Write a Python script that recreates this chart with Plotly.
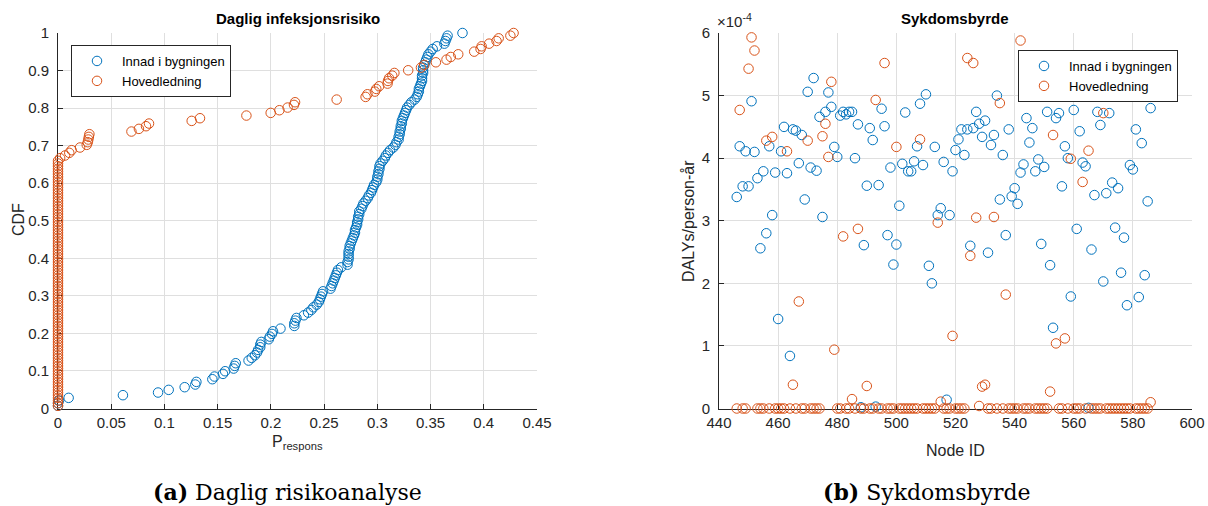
import plotly.graph_objects as go

# ---------------- Data ----------------
# (a) Daglig infeksjonsrisiko: daily infection-risk values per node (sorted, for the empirical CDF)
innad_p = [
    0.000, 0.000, 0.001, 0.010, 0.061, 0.094, 0.104, 0.119, 0.129, 0.130,
    0.145, 0.147, 0.155, 0.157, 0.165, 0.166, 0.167, 0.179, 0.182, 0.185,
    0.187, 0.188, 0.190, 0.190, 0.191, 0.198, 0.199, 0.201, 0.202, 0.209,
    0.222, 0.222, 0.223, 0.224, 0.231, 0.235, 0.238, 0.240, 0.243, 0.245,
    0.246, 0.247, 0.248, 0.249, 0.256, 0.257, 0.258, 0.259, 0.260, 0.261,
    0.262, 0.263, 0.266, 0.272, 0.272, 0.273, 0.273, 0.273, 0.273, 0.274,
    0.274, 0.275, 0.276, 0.277, 0.278, 0.279, 0.279, 0.280, 0.281, 0.281,
    0.282, 0.282, 0.283, 0.283, 0.285, 0.286, 0.287, 0.289, 0.291, 0.292,
    0.294, 0.295, 0.296, 0.297, 0.299, 0.300, 0.300, 0.301, 0.301, 0.302,
    0.302, 0.303, 0.305, 0.307, 0.308, 0.310, 0.312, 0.315, 0.317, 0.318,
    0.320, 0.320, 0.321, 0.321, 0.322, 0.322, 0.323, 0.323, 0.324, 0.325,
    0.326, 0.327, 0.328, 0.330, 0.332, 0.335, 0.337, 0.338, 0.339, 0.339,
    0.340, 0.341, 0.342, 0.342, 0.342, 0.343, 0.343, 0.343, 0.344, 0.345,
    0.346, 0.347, 0.348, 0.350, 0.352, 0.356, 0.363, 0.364, 0.365, 0.366,
    0.380,
]
hoved_p = [
    0, 0, 0, 0, 0, 0, 0, 0, 0, 0,
    0, 0, 0, 0, 0, 0, 0, 0, 0, 0,
    0, 0, 0, 0, 0, 0, 0, 0, 0, 0,
    0, 0, 0, 0, 0, 0, 0, 0, 0, 0,
    0, 0, 0, 0, 0, 0, 0, 0, 0, 0,
    0, 0, 0, 0, 0, 0, 0, 0, 0, 0,
    0, 0, 0, 0, 0, 0, 0, 0, 0, 0,
    0, 0, 0, 0, 0, 0, 0, 0, 0, 0,
    0, 0, 0, 0, 0, 0, 0, 0, 0, 0,
    0, 0, 0,
    0.002, 0.0066, 0.0106, 0.0128, 0.0207, 0.027, 0.028, 0.0285, 0.029, 0.0295,
    0.069, 0.076, 0.0827, 0.0855, 0.1256, 0.1334, 0.177, 0.1998, 0.208, 0.2157,
    0.2217, 0.2227, 0.2618, 0.289, 0.2907, 0.2977, 0.299, 0.3017, 0.3096, 0.310,
    0.311, 0.314, 0.316, 0.329, 0.341, 0.344, 0.355, 0.365, 0.369, 0.376,
    0.391, 0.397, 0.398, 0.405, 0.412, 0.414, 0.425, 0.428,
]

# (b) Sykdomsbyrde: DALYs per person-year per node, in units of 1e-4
node_id = [
    446, 447, 448, 449, 450, 451, 452, 453, 454, 455, 456, 457, 458, 459, 460,
    461, 462, 463, 464, 465, 466, 467, 468, 469, 470, 471, 472, 473, 474, 475,
    476, 477, 478, 479, 480, 481, 482, 483, 484, 485, 486, 487, 488, 489, 490,
    491, 492, 493, 494, 495, 496, 497, 498, 499, 500, 501, 502, 503, 504, 505,
    506, 507, 508, 509, 510, 511, 512, 513, 514, 515, 516, 517, 518, 519, 520,
    521, 522, 523, 524, 525, 526, 527, 528, 529, 530, 531, 532, 533, 534, 535,
    536, 537, 538, 539, 540, 541, 542, 543, 544, 545, 546, 547, 548, 549, 550,
    551, 552, 553, 554, 555, 556, 557, 558, 559, 560, 561, 562, 563, 564, 565,
    566, 567, 568, 569, 570, 571, 572, 573, 574, 575, 576, 577, 578, 579, 580,
    581, 582, 583, 584, 585, 586,
]
innad_daly_e4 = [
    3.38, 4.19, 3.55, 4.11, 3.55, 4.91, 4.10, 3.68, 2.56, 3.79, 2.80, 4.19, 3.09, 3.77, 1.43,
    4.11, 4.50, 3.76, 0.84, 4.46, 4.44, 3.92, 4.37, 3.34, 5.06, 3.85, 5.28, 3.80, 4.66, 3.06,
    4.74, 5.05, 4.82, 4.18, 4.02, 4.68, 4.74, 4.70, 4.74, 4.74, 4.00, 4.54, 0.02, 2.61, 3.56,
    4.48, 4.29, 0.03, 3.57, 4.79, 4.51, 2.77, 3.85, 2.30, 2.62, 3.24, 3.91, 4.73, 3.79, 3.79,
    3.95, 4.19, 4.87, 3.89, 5.02, 2.28, 2.00, 4.18, 3.09, 3.20, 3.94, 0.14, 3.09, 3.79, 4.13,
    4.30, 4.46, 4.05, 4.46, 2.60, 4.48, 4.74, 4.55, 4.34, 4.60, 2.49, 4.21, 4.37, 5.00, 3.34,
    4.05, 2.77, 4.46, 3.39, 3.52, 3.27, 3.77, 3.90, 4.64, 4.25, 4.48, 3.79, 3.98, 2.63, 3.86,
    4.74, 2.29, 1.29, 4.64, 4.72, 3.55, 4.19, 4.00, 1.79, 4.77, 2.87, 4.43, 3.93, 3.87, 0.01,
    2.54, 3.41, 4.74, 4.53, 2.03, 3.44, 4.72, 3.61, 2.89, 3.52, 2.17, 2.73, 1.65, 3.89, 3.82,
    4.46, 1.78, 4.24, 2.13, 3.31, 4.80,
]
hoved_daly_e4 = [
    0.00, 4.77, 0.00, 0.00, 5.43, 5.93, 5.72, 0.00, 0.00, 0.00, 4.28, 0.00, 4.34, 0.00, 0.00,
    0.00, 0.00, 4.11, 0.00, 0.38, 0.00, 1.71, 0.00, 0.00, 4.28, 0.00, 0.00, 0.00, 0.00, 4.35,
    4.55, 4.02, 5.22, 0.94, 0.00, 0.00, 2.75, 0.00, 0.00, 0.15, 0.00, 2.87, 0.00, 0.00, 0.36,
    0.00, 0.00, 4.93, 0.00, 0.00, 5.52, 0.00, 0.00, 0.00, 4.18, 0.00, 0.00, 0.00, 0.00, 0.00,
    0.00, 0.00, 4.30, 0.00, 0.00, 0.00, 0.00, 0.00, 2.97, 0.11, 0.00, 0.00, 0.00, 1.16, 0.00,
    0.00, 0.00, 0.00, 5.60, 2.44, 5.52, 3.05, 0.04, 0.35, 0.38, 0.00, 0.00, 3.06, 0.00, 4.88,
    0.00, 1.82, 0.00, 0.00, 0.00, 0.00, 5.88, 0.00, 0.00, 0.00, 5.12, 0.00, 0.00, 0.00, 0.00,
    0.00, 0.27, 4.37, 1.04, 0.00, 0.00, 1.12, 0.00, 3.99, 0.00, 0.00, 0.00, 3.62, 0.00, 4.12,
    0.00, 0.00, 0.00, 0.00, 4.72, 0.00, 0.00, 0.00, 0.00, 0.00, 0.00, 0.00, 0.00, 0.00, 5.06,
    0.00, 0.00, 0.00, 0.00, 0.00, 0.10,
]

series_names = ["Innad i bygningen", "Hovedledning"]
x_ticks_a = [0, 0.05, 0.1, 0.15, 0.2, 0.25, 0.3, 0.35, 0.4, 0.45]
x_ticklabels_a = ["0", "0.05", "0.1", "0.15", "0.2", "0.25", "0.3", "0.35", "0.4", "0.45"]
y_ticks_a = [0, 0.1, 0.2, 0.3, 0.4, 0.5, 0.6, 0.7, 0.8, 0.9, 1]
y_ticklabels_a = ["0", "0.1", "0.2", "0.3", "0.4", "0.5", "0.6", "0.7", "0.8", "0.9", "1"]
x_ticks_b = [440, 460, 480, 500, 520, 540, 560, 580, 600]
y_ticks_b = [0, 1, 2, 3, 4, 5, 6]

# ---------------- Style ----------------
W, H = 1208, 506
BLUE = "#0072BD"
ORANGE = "#D95319"
AX = "#262626"
GRID = "#dfdfdf"
SANS = "Liberation Sans, Arial, sans-serif"
SERIF = "DejaVu Serif, Liberation Serif, serif"


def px_x(p):
    return p / W


def px_y(p):
    return 1 - p / H


def ecdf(vals):
    s = sorted(vals)
    n = len(s)
    return s, [(i + 1) / n for i in range(n)]


fig = go.Figure()

marker_common = dict(symbol="circle-open", size=9.5)

xa, ya = ecdf(innad_p)
xb, yb = ecdf(hoved_p)
fig.add_trace(go.Scatter(x=xa, y=ya, mode="markers", name=series_names[0],
                         marker=dict(color=BLUE, line=dict(width=1, color=BLUE), **marker_common),
                         cliponaxis=False, xaxis="x", yaxis="y", legend="legend"))
fig.add_trace(go.Scatter(x=xb, y=yb, mode="markers", name=series_names[1],
                         marker=dict(color=ORANGE, line=dict(width=1, color=ORANGE), **marker_common),
                         cliponaxis=False, xaxis="x", yaxis="y", legend="legend"))
fig.add_trace(go.Scatter(x=node_id, y=innad_daly_e4, mode="markers", name=series_names[0],
                         marker=dict(color=BLUE, line=dict(width=1, color=BLUE), **marker_common),
                         cliponaxis=False, xaxis="x2", yaxis="y2", legend="legend2"))
fig.add_trace(go.Scatter(x=node_id, y=hoved_daly_e4, mode="markers", name=series_names[1],
                         marker=dict(color=ORANGE, line=dict(width=1, color=ORANGE), **marker_common),
                         cliponaxis=False, xaxis="x2", yaxis="y2", legend="legend2"))

axis_common = dict(
    showline=True, linecolor=AX, linewidth=1, mirror=False,
    showgrid=True, gridcolor=GRID, gridwidth=1,
    ticks="inside", ticklen=5, tickcolor=AX, tickwidth=1,
    zeroline=False, layer="below traces", automargin=False,
    ticklabeloverflow="allow",
    tickfont=dict(family=SANS, size=15, color=AX),
    fixedrange=True,
)

dom_a = [px_x(58), px_x(537)]
dom_b = [px_x(719), px_x(1192)]
dom_y = [px_y(408.5), px_y(33)]

fig.update_layout(
    width=W, height=H,
    margin=dict(l=0, r=0, t=0, b=0, autoexpand=False),
    paper_bgcolor="white", plot_bgcolor="white",
    font=dict(family=SANS, color=AX),
    xaxis=dict(domain=dom_a, range=[0, 0.45], anchor="y",
               tickvals=x_ticks_a, ticktext=x_ticklabels_a, ticklabelstandoff=0, **axis_common),
    yaxis=dict(domain=dom_y, range=[0, 1], anchor="x",
               tickvals=y_ticks_a, ticktext=y_ticklabels_a, ticklabelstandoff=5, **axis_common),
    xaxis2=dict(domain=dom_b, range=[440, 600], anchor="y2",
                tickvals=x_ticks_b, ticklabelstandoff=0, **axis_common),
    yaxis2=dict(domain=dom_y, range=[0, 6], anchor="x2",
                tickvals=y_ticks_b, ticklabelstandoff=5, **axis_common),
    legend=dict(x=px_x(71), y=px_y(45), xanchor="left", yanchor="top",
                bgcolor="white", bordercolor=AX, borderwidth=1,
                font=dict(family=SANS, size=13, color="#000000"),
                itemwidth=40, tracegroupgap=0),
    legend2=dict(x=px_x(1018), y=px_y(50), xanchor="left", yanchor="top",
                 bgcolor="white", bordercolor=AX, borderwidth=1,
                 font=dict(family=SANS, size=13, color="#000000"),
                 itemwidth=40, tracegroupgap=0),
    showlegend=True,
)

ann = []
# subplot titles
ann.append(dict(text="<b>Daglig infeksjonsrisiko</b>", x=(dom_a[0] + dom_a[1]) / 2, y=px_y(18),
                xref="paper", yref="paper", showarrow=False, xanchor="center", yanchor="middle",
                font=dict(family=SANS, size=15, color="#000000")))
ann.append(dict(text="<b>Sykdomsbyrde</b>", x=(dom_b[0] + dom_b[1]) / 2, y=px_y(18),
                xref="paper", yref="paper", showarrow=False, xanchor="center", yanchor="middle",
                font=dict(family=SANS, size=15, color="#000000")))
# axis titles
ann.append(dict(text="CDF", x=px_x(19), y=px_y(220), xref="paper", yref="paper", showarrow=False,
                textangle=-90, xanchor="center", yanchor="middle",
                font=dict(family=SANS, size=16, color=AX)))
ann.append(dict(text="DALYs/person-år", x=px_x(689), y=px_y(221), xref="paper", yref="paper",
                showarrow=False, textangle=-90, xanchor="center", yanchor="middle",
                font=dict(family=SANS, size=16, color=AX)))
ann.append(dict(text="P<sub>respons</sub>", x=(dom_a[0] + dom_a[1]) / 2, y=px_y(431),
                xref="paper", yref="paper", showarrow=False, xanchor="center", yanchor="top",
                font=dict(family=SANS, size=16, color=AX)))
ann.append(dict(text="Node ID", x=(dom_b[0] + dom_b[1]) / 2, y=px_y(450), xref="paper", yref="paper",
                showarrow=False, xanchor="center", yanchor="middle",
                font=dict(family=SANS, size=16, color=AX)))
# exponent label
ann.append(dict(text="×10<sup>-4</sup>", x=px_x(715), y=px_y(21), xref="paper", yref="paper",
                showarrow=False, xanchor="left", yanchor="middle",
                font=dict(family=SANS, size=15, color=AX)))
# captions
ann.append(dict(text="<b>(a)</b> Daglig risikoanalyse", x=px_x(287), y=px_y(492), xref="paper",
                yref="paper", showarrow=False, xanchor="center", yanchor="middle",
                font=dict(family=SERIF, size=22, color="#000000")))
ann.append(dict(text="<b>(b)</b> Sykdomsbyrde", x=px_x(927), y=px_y(492), xref="paper",
                yref="paper", showarrow=False, xanchor="center", yanchor="middle",
                font=dict(family=SERIF, size=22, color="#000000")))
fig.update_layout(annotations=ann)

fig.write_html("out.html", config={"displayModeBar": False})
